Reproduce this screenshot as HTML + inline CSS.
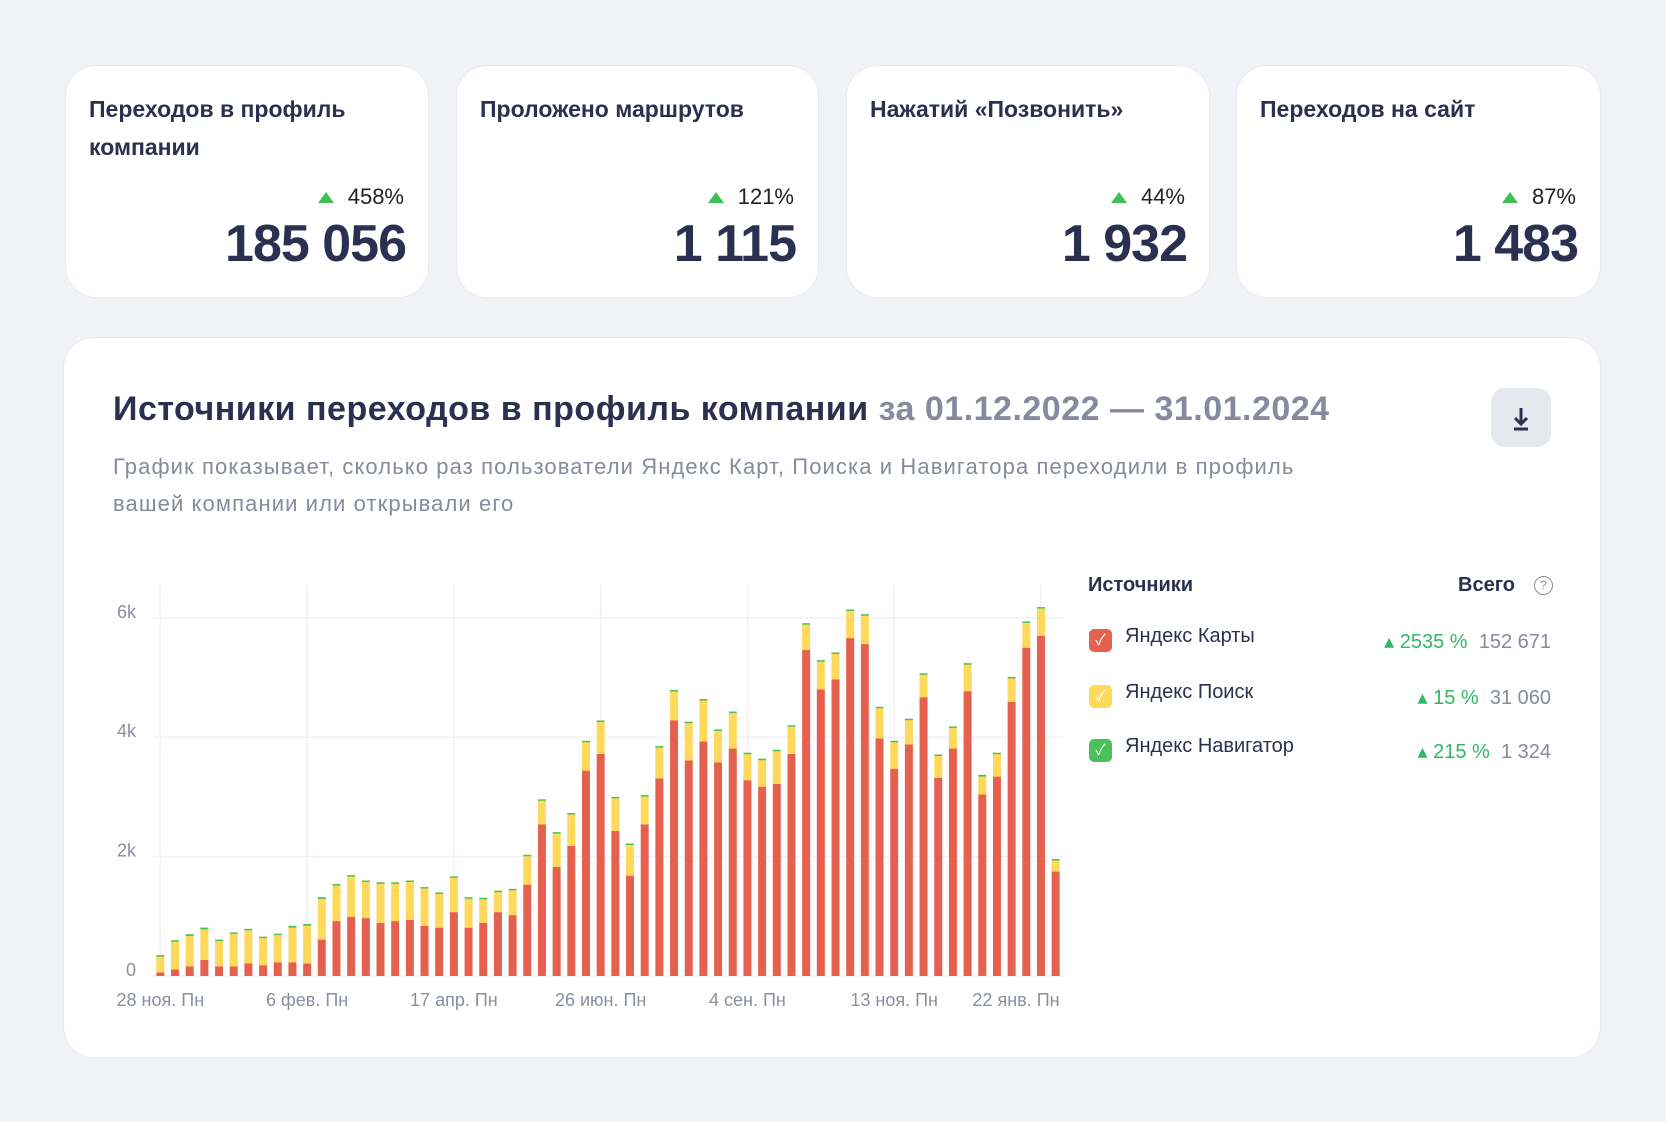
<!DOCTYPE html>
<html><head><meta charset="utf-8"><style>
body{margin:0;width:1666px;height:1122px;background:#f1f2f6;font-family:"Liberation Sans","Noto Sans CJK SC",sans-serif;position:relative;overflow:hidden;color:#2c3050}
.card{position:absolute;background:#fff;border-radius:30px;box-shadow:0 0 0 1px #e8e9ef}
.kt{position:absolute;left:23px;top:24px;font-size:23px;font-weight:bold;line-height:38px;color:#2c3050;width:320px}
.kp{position:absolute;right:24px;top:118px;font-size:22px;color:#222}
.kp i{display:inline-block;width:0;height:0;border-left:8px solid transparent;border-right:8px solid transparent;border-bottom:11px solid #3fbf55;margin-right:14px;vertical-align:1px}
.kv{position:absolute;right:22px;top:148px;font-size:52px;font-weight:bold;letter-spacing:-1px;color:#2c3050}
</style></head><body>
<div class="card" style="left:66px;top:66px;width:362px;height:231px">
<div class="kt">Переходов в профиль компании</div>
<div class="kp"><i></i>458%</div>
<div class="kv">185 056</div></div>
<div class="card" style="left:457px;top:66px;width:361px;height:231px">
<div class="kt">Проложено маршрутов</div>
<div class="kp"><i></i>121%</div>
<div class="kv">1 115</div></div>
<div class="card" style="left:847px;top:66px;width:362px;height:231px">
<div class="kt">Нажатий «Позвонить»</div>
<div class="kp"><i></i>44%</div>
<div class="kv">1 932</div></div>
<div class="card" style="left:1237px;top:66px;width:363px;height:231px">
<div class="kt">Переходов на сайт</div>
<div class="kp"><i></i>87%</div>
<div class="kv">1 483</div></div>

<div class="card" style="left:64px;top:338px;width:1536px;height:719px">
<div style="position:absolute;left:49px;top:52px;font-size:34px;font-weight:bold;letter-spacing:0.5px;white-space:nowrap">Источники переходов в профиль компании <span style="color:#858a9e">за 01.12.2022 — 31.01.2024</span></div>
<div style="position:absolute;left:49px;top:110px;font-size:22px;letter-spacing:1.1px;line-height:37px;color:#858a9e;width:1350px;white-space:nowrap">График показывает, сколько раз пользователи Яндекс Карт, Поиска и Навигатора переходили в профиль<br>вашей компании или открывали его</div>
<div style="position:absolute;left:1427px;top:50px;width:60px;height:59px;background:#e6e8ef;border-radius:14px">
<svg width="60" height="59"><path d="M30 20v16M24 30l6 6 6-6M23 41h14" stroke="#2c3050" stroke-width="3" fill="none"/></svg></div>
</div>

<svg id="chart" width="1666" height="1122" style="position:absolute;left:0;top:0"></svg>

<div style="position:absolute;left:1088px;top:574px;width:465px;font-size:20px">
<div style="position:absolute;left:0;top:0;font-weight:bold">Источники</div>
<div style="position:absolute;right:38px;top:0;font-weight:bold">Всего</div>
<div style="position:absolute;right:0;top:2px;width:17px;height:17px;border:1.5px solid #8a8ea2;border-radius:50%;font-size:12px;text-align:center;line-height:17px;color:#8a8ea2">?</div>
<div style="position:absolute;left:0;top:55px;width:465px">
<span style="position:absolute;left:1px;top:0;width:23px;height:23px;border-radius:5px;background:#e5614f;color:#fff;font-size:15px;text-align:center;line-height:23px">✓</span>
<span style="position:absolute;left:37px;top:-4px">Яндекс Карты</span>
<span style="position:absolute;right:2px;top:0"><span style="color:#2fb866">▴ 2535 %</span> <span style="color:#858a9e">&nbsp;152 671</span></span></div>
<div style="position:absolute;left:0;top:111px;width:465px">
<span style="position:absolute;left:1px;top:0;width:23px;height:23px;border-radius:5px;background:#ffd95c;color:#fff;font-size:15px;text-align:center;line-height:23px">✓</span>
<span style="position:absolute;left:37px;top:-4px">Яндекс Поиск</span>
<span style="position:absolute;right:2px;top:0"><span style="color:#2fb866">▴ 15 %</span> <span style="color:#858a9e">&nbsp;31 060</span></span></div>
<div style="position:absolute;left:0;top:165px;width:465px">
<span style="position:absolute;left:1px;top:0;width:23px;height:23px;border-radius:5px;background:#4cc15a;color:#fff;font-size:15px;text-align:center;line-height:23px">✓</span>
<span style="position:absolute;left:37px;top:-4px">Яндекс Навигатор</span>
<span style="position:absolute;right:2px;top:0"><span style="color:#2fb866">▴ 215 %</span> <span style="color:#858a9e">&nbsp;1 324</span></span></div>
</div>

<script>
const maps=[0.06,0.11,0.16,0.27,0.16,0.16,0.21,0.18,0.23,0.23,0.21,0.61,0.92,0.99,0.97,0.89,0.92,0.94,0.84,0.81,1.07,0.81,0.89,1.07,1.02,1.53,2.54,1.83,2.18,3.44,3.72,2.43,1.68,2.54,3.31,4.28,3.61,3.93,3.58,3.81,3.28,3.17,3.22,3.72,5.46,4.80,4.97,5.66,5.56,3.98,3.47,3.88,4.67,3.32,3.81,4.77,3.04,3.34,4.59,5.50,5.70,1.75];
const totals=[0.35,0.60,0.70,0.81,0.61,0.73,0.79,0.66,0.71,0.84,0.87,1.32,1.54,1.69,1.60,1.57,1.57,1.60,1.49,1.40,1.67,1.32,1.31,1.43,1.46,2.03,2.96,2.41,2.73,3.94,4.28,3.00,2.22,3.03,3.85,4.79,4.26,4.64,4.13,4.43,3.74,3.64,3.79,4.20,5.91,5.29,5.42,6.14,6.06,4.51,3.94,4.31,5.07,3.71,4.18,5.24,3.37,3.74,5.01,5.94,6.18,1.96];
const navigator=[0.01,0.02,0.03,0.03,0.02,0.02,0.02,0.02,0.02,0.03,0.03,0.03,0.02,0.02,0.02,0.02,0.01,0.01,0.02,0.02,0.02,0.02,0.01,0.02,0.02,0.01,0.01,0.02,0.02,0.02,0.02,0.02,0.02,0.02,0.02,0.01,0.02,0.02,0.01,0.02,0.02,0.02,0.02,0.02,0.02,0.01,0.01,0.02,0.02,0.01,0.02,0.02,0.01,0.02,0.01,0.02,0.03,0.01,0.02,0.02,0.02,0.02];
const search=totals.map((t,i)=>Math.max(0,t-maps[i]-navigator[i]));
const yTicks=[0,2,4,6];
const yTickLabels=["0","2k","4k","6k"];
const xTickIdx=[0,10,20,30,40,50,60];
const xTickLabels=["28 ноя. Пн","6 фев. Пн","17 апр. Пн","26 июн. Пн","4 сен. Пн","13 ноя. Пн","22 янв. Пн"];

const svg=document.getElementById('chart');
const NS='http://www.w3.org/2000/svg';
const L=153,R=1063,Y0=976,PX=59.7;
const band=(R-L)/maps.length;
const y=v=>Y0-v*PX;
const xc=i=>L+band*(i+0.5);
function mk(t,a){const e=document.createElementNS(NS,t);for(const k in a)e.setAttribute(k,a[k]);svg.appendChild(e);return e;}
yTicks.forEach((v,i)=>{
 const g=mk('line',{x1:L,x2:R,y1:y(v),y2:y(v),stroke:'#eef1fb','stroke-width':1.5});
 
 
 const t=mk('text',{x:136,y:y(v)+0,'text-anchor':'end','font-size':18,fill:'#8a8ea2','font-family':'Liberation Sans, sans-serif'});
 t.textContent=yTickLabels[i];
 
 
});
xTickIdx.forEach((idx,i)=>{
 const g=mk('line',{x1:xc(idx),x2:xc(idx),y1:585,y2:Y0,stroke:'#eef1fb','stroke-width':1.5});
 
 
 const t=mk('text',{x:Math.min(xc(idx),1016),y:1006,'text-anchor':'middle','font-size':18,fill:'#8a8ea2','font-family':'Liberation Sans, sans-serif'});
 t.textContent=xTickLabels[i];
 
 
});
const bw=8;
maps.forEach((m,i)=>{
 const x=xc(i)-bw/2;
 const s=search[i],n=navigator[i];
 const r=mk('rect',{x:x,y:y(m),width:bw,height:m*PX,fill:'#e5614f'});
 
 
 const ys=mk('rect',{x:x,y:y(m+s),width:bw,height:s*PX,fill:'#ffd95c'});
 
 
 const g=mk('rect',{x:x,y:y(m+s+n),width:bw,height:Math.max(1.5,n*PX),fill:'#4cc15a'});
 
 
});
</script>
</body></html>
